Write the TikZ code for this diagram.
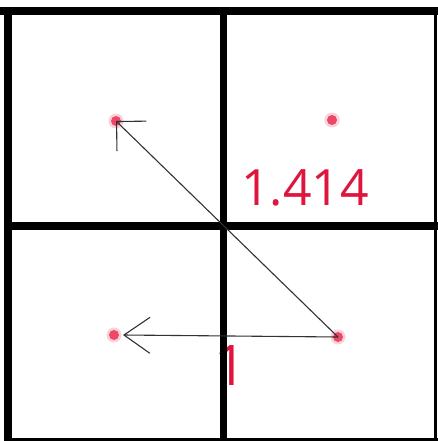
\documentclass[tikz,border=0pt]{standalone}
\usepackage{fontspec}
\newfontfamily\labfont{Open Sans}
\usetikzlibrary{arrows.meta}
\definecolor{dotred}{RGB}{236,72,104}
\definecolor{txtred}{RGB}{222,22,62}
\definecolor{arrowgray}{RGB}{50,50,50}
\tikzset{
  gridline/.style={line width=8pt,black},
  reddot/.style={circle,fill=dotred,inner sep=0pt,minimum size=10pt},
  vec/.style={arrowgray,line width=1.1pt},
  lbl/.style={txtred,font=\labfont\fontsize{50}{50}\selectfont,inner sep=0pt,anchor=base}
}
\begin{document}
\begin{tikzpicture}[x=1pt,y=-1pt]
\useasboundingbox (0,0) rectangle (438,441);
\fill[white] (0,0) rectangle (438,441);
% labels (behind grid)
\node[lbl] (diag) at (305,205) {1.414};
\node[lbl,font=\labfont\fontsize{56}{56}\selectfont] (one) at (231,385) {1};
% grid
\draw[gridline] (8,7) -- (8,441);
\draw[gridline] (0,11) -- (438,11);
\draw[gridline,line width=7pt] (223.5,7) -- (223.5,441);
\draw[gridline] (4,226) -- (438,226);
\draw[black,line width=2.5pt] (435.5,7) -- (435.5,441);
\draw[black,line width=3pt] (4,439.5) -- (438,439.5);
% dots
\fill[dotred,opacity=0.25] (116,121) circle (7.5pt);
\fill[dotred,opacity=0.25] (332,120) circle (7.5pt);
\fill[dotred,opacity=0.25] (114,335) circle (7.5pt);
\fill[dotred,opacity=0.25] (338,337) circle (7.5pt);
\node[reddot] (tl) at (116,121) {};
\node[reddot] (tr) at (332,120) {};
\node[reddot] (bl) at (114,335) {};
\node[reddot] (br) at (338,337) {};
% vectors
\draw[vec,-{Straight Barb[length=21pt,width=42pt,line width=1.1pt]}] (br.center) -- (tl.center);
\draw[vec,-{Straight Barb[length=26pt,width=36pt,line width=1.1pt]}] (br.center) -- ([xshift=9pt]bl.center);
\end{tikzpicture}
\end{document}
